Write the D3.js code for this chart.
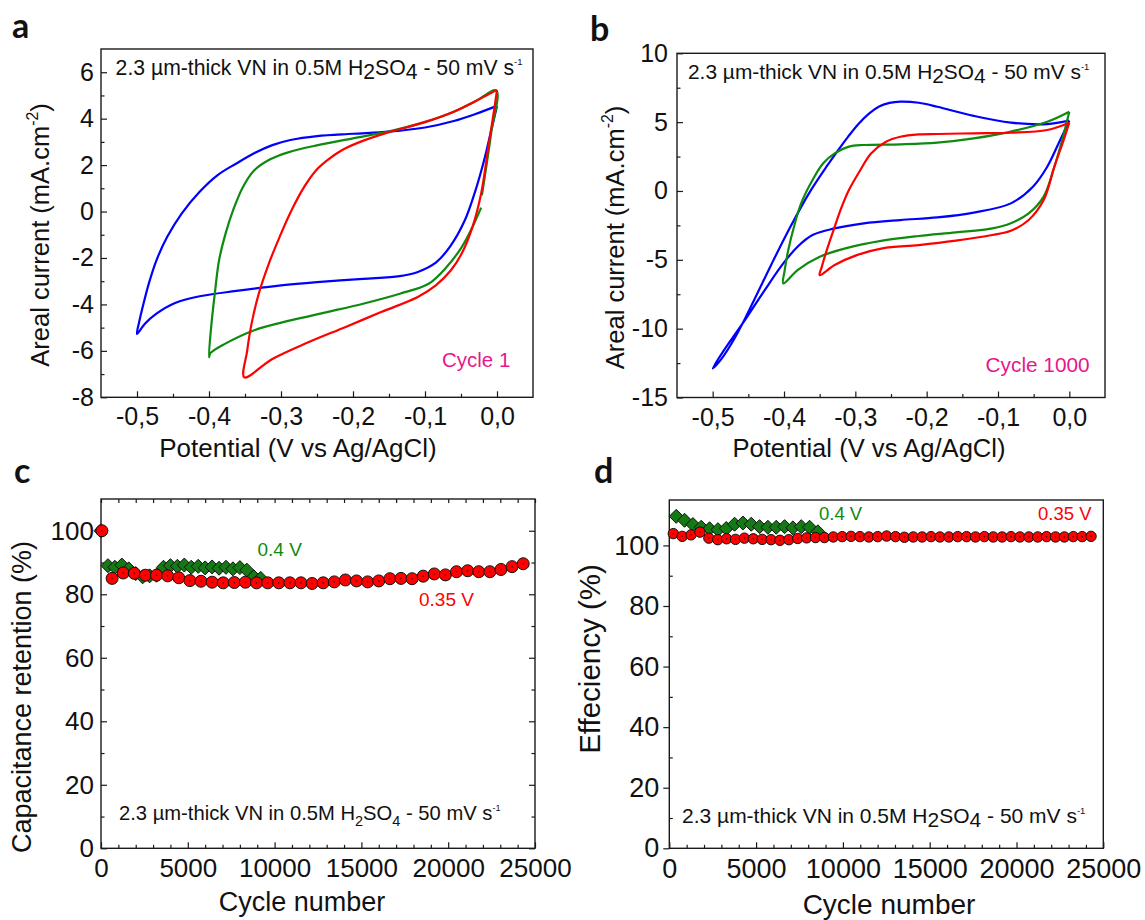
<!DOCTYPE html>
<html>
<head>
<meta charset="utf-8">
<script src="https://cdn.jsdelivr.net/npm/d3@7"></script>
<style>
  body { margin: 0; background: #fff; }
  text { font-family: "Liberation Sans", Arial, sans-serif; fill: #111; }
</style>
</head>
<body>
<svg id="fig" width="1145" height="920"></svg>
<script>
// ---- tick values ----
const potTicks = [-0.5, -0.4, -0.3, -0.2, -0.1, 0.0];
const potMinor = [-0.45, -0.35, -0.25, -0.15, -0.05];
const curTicksA = [-8, -6, -4, -2, 0, 2, 4, 6];
const curMinorA = [-7, -5, -3, -1, 1, 3, 5];
const curTicksB = [-15, -10, -5, 0, 5, 10];
const curMinorB = [-12.5, -7.5, -2.5, 2.5, 7.5];
const cycTicks = [0, 5000, 10000, 15000, 20000, 25000];
const cycMinor = [1000, 2000, 3000, 4000, 6000, 7000, 8000, 9000, 11000, 12000, 13000, 14000,
  16000, 17000, 18000, 19000, 21000, 22000, 23000, 24000];
const pctTicks = [0, 20, 40, 60, 80, 100];
const pctMinorC = [10, 30, 50, 70, 90];
const pctMinorD = [10, 30, 50, 70, 90, 110];

// ---- panel a : cycle 1, [potential V, current mA/cm2] ----
const cvA_blue = [[0, 4.55], [-0.03, 4.2], [-0.06, 3.9], [-0.1, 3.62], [-0.15, 3.44], [-0.2, 3.35],
  [-0.25, 3.25], [-0.287, 3.08], [-0.312, 2.86], [-0.338, 2.5], [-0.362, 2.07], [-0.388, 1.57],
  [-0.413, 0.85], [-0.438, -0.09], [-0.458, -1.09], [-0.473, -2.1], [-0.483, -3.04], [-0.491, -3.97],
  [-0.497, -4.76], [-0.5, -5.27],
  [-0.489, -4.83], [-0.473, -4.4], [-0.448, -3.95], [-0.413, -3.65], [-0.362, -3.42], [-0.3, -3.18],
  [-0.25, -3.04], [-0.186, -2.9], [-0.135, -2.78], [-0.11, -2.6], [-0.085, -2.2], [-0.065, -1.5],
  [-0.045, -0.4], [-0.03, 0.9], [-0.018, 2.2], [-0.008, 3.5], [0, 4.55]];
const cvA_green = [[-0.021, 0.7], [-0.016, 1.7], [-0.008, 3.4], [-0.001, 5.21], [-0.03, 4.75],
  [-0.06, 4.3], [-0.1, 3.86], [-0.15, 3.45], [-0.2, 3.15], [-0.25, 2.85], [-0.29, 2.55], [-0.315, 2.25],
  [-0.338, 1.75], [-0.353, 1.05], [-0.366, 0.1], [-0.377, -0.95], [-0.386, -2.1], [-0.392, -3.55],
  [-0.397, -4.98], [-0.4, -6.27],
  [-0.398, -6.1], [-0.378, -5.7], [-0.338, -5.12], [-0.287, -4.69], [-0.236, -4.33], [-0.186, -3.97],
  [-0.135, -3.54], [-0.095, -3.11], [-0.07, -2.39], [-0.049, -1.53], [-0.034, -0.66], [-0.022, 0.17]];
const cvA_red = [[0, 5.24], [-0.03, 4.75], [-0.06, 4.3], [-0.1, 3.85], [-0.15, 3.42], [-0.19, 3.0],
  [-0.215, 2.65], [-0.236, 2.2], [-0.252, 1.75], [-0.268, 1.05], [-0.287, -0.05], [-0.302, -1.1],
  [-0.317, -2.25], [-0.331, -3.55], [-0.341, -4.85], [-0.347, -6.0], [-0.351, -7.14],
  [-0.312, -6.35], [-0.262, -5.63], [-0.211, -4.98], [-0.161, -4.33], [-0.11, -3.68], [-0.085, -3.18],
  [-0.064, -2.53], [-0.049, -1.81], [-0.034, -0.66], [-0.022, 0.78], [-0.012, 2.79], [-0.004, 4.37], [0, 5.24]];

// ---- panel b : cycle 1000 ----
const cvB_blue = [[0, 5.11], [-0.031, 4.86], [-0.082, 4.96], [-0.134, 5.45], [-0.185, 6.12], [-0.211, 6.41],
  [-0.237, 6.49], [-0.252, 6.4], [-0.266, 6.15], [-0.28, 5.65], [-0.295, 4.9], [-0.31, 3.95], [-0.325, 2.9],
  [-0.34, 1.8], [-0.365, -0.17], [-0.391, -2.6], [-0.417, -5.26], [-0.442, -7.93], [-0.468, -10.59],
  [-0.489, -12.29], [-0.5, -12.89],
  [-0.484, -11.56], [-0.458, -9.62], [-0.427, -7.2], [-0.401, -5.26], [-0.381, -4.05], [-0.36, -3.2],
  [-0.329, -2.72], [-0.288, -2.35], [-0.237, -2.11], [-0.185, -1.92], [-0.134, -1.57], [-0.082, -0.9],
  [-0.051, 0.31], [-0.031, 1.76], [-0.015, 3.46], [-0.005, 4.55], [0, 5.11]];
const cvB_green = [[0, 5.76], [-0.031, 5.03], [-0.082, 4.31], [-0.134, 3.82], [-0.185, 3.51], [-0.237, 3.39],
  [-0.288, 3.34], [-0.309, 3.22], [-0.329, 2.73], [-0.345, 2.01], [-0.36, 0.8], [-0.376, -0.9],
  [-0.386, -2.6], [-0.394, -4.29], [-0.399, -5.75], [-0.401, -6.72],
  [-0.381, -5.75], [-0.35, -4.78], [-0.314, -4.17], [-0.262, -3.61], [-0.211, -3.27], [-0.159, -3.01],
  [-0.108, -2.72], [-0.082, -2.35], [-0.057, -1.63], [-0.036, -0.41], [-0.021, 1.76], [-0.01, 3.7],
  [-0.003, 5.15], [0, 5.76]];
const cvB_red = [[0, 4.96], [-0.031, 4.43], [-0.082, 4.23], [-0.134, 4.19], [-0.185, 4.14], [-0.211, 4.11],
  [-0.237, 3.94], [-0.257, 3.58], [-0.278, 2.73], [-0.293, 1.52], [-0.309, 0.07], [-0.319, -1.14],
  [-0.329, -2.6], [-0.34, -4.29], [-0.347, -5.5], [-0.35, -6.11],
  [-0.329, -5.38], [-0.298, -4.66], [-0.262, -4.17], [-0.211, -3.93], [-0.159, -3.61], [-0.108, -3.2],
  [-0.082, -2.89], [-0.057, -2.11], [-0.036, -0.66], [-0.021, 1.76], [-0.008, 3.7], [0, 4.96]];

// ---- panel c : capacitance retention (%) ----
const cycC_red = [50, 640, 1280, 1920, 2560, 3200, 3840, 4480, 5120, 5760, 6400, 7040, 7680, 8320,
  8960, 9600, 10240, 10880, 11520, 12160, 12800, 13440, 14080, 14720, 15360, 16000, 16640, 17280,
  17920, 18560, 19200, 19840, 20480, 21120, 21760, 22400, 23040, 23680, 24320];
const capC_red = [100, 85.0, 86.7, 86.6, 86.0, 86.0, 85.8, 85.2, 84.3, 84.1, 83.8, 83.6, 83.7, 83.8,
  83.6, 83.6, 83.6, 83.6, 83.6, 83.4, 83.6, 83.9, 84.5, 84.2, 83.9, 84.2, 84.9, 85.0,
  84.9, 85.7, 86.4, 86.1, 87.1, 87.4, 87.1, 87.1, 87.8, 88.7, 89.6];
const cycC_green = [0, 400, 800, 1200, 1600, 2000, 2400, 2800, 3200, 3600, 4000, 4400, 4800, 5200,
  5600, 6000, 6400, 6800, 7200, 7600, 8000, 8400, 8800, 9200];
const capC_green = [100, 89.0, 88.5, 89.2, 88.0, 86.5, 85.5, 85.8, 86.0, 88.5, 89.0, 88.8, 89.2, 88.5,
  88.8, 88.3, 88.6, 88.2, 88.5, 88.0, 88.4, 87.6, 85.5, 85.0];

// ---- panel d : efficiency (%) ----
const cycD_red = [230, 742, 1254, 1766, 2278, 2790, 3302, 3814, 4326, 4838, 5350, 5862, 6374, 6886,
  7398, 7910, 8422, 8934, 9446, 9958, 10470, 10982, 11494, 12006, 12518, 13030, 13542, 14054, 14566,
  15078, 15590, 16102, 16614, 17126, 17638, 18150, 18662, 19174, 19686, 20198, 20710, 21222, 21734,
  22246, 22758, 23270, 23782, 24294];
const effD_red = [103.9, 103.0, 103.5, 104.4, 102.4, 101.9, 102.2, 102.0, 102.4, 102.2,
  102.0, 101.9, 101.7, 101.9, 102.3, 102.5, 102.6, 102.6, 102.8, 102.9,
  103.0, 102.9, 102.8, 102.9, 103.1, 102.9, 102.7, 102.8, 102.8, 102.9,
  102.8, 102.8, 102.9, 102.9, 102.8, 102.9, 102.8, 102.8, 102.9, 102.8,
  102.8, 102.8, 102.9, 102.8, 102.8, 102.9, 102.9, 103.0];
const cycD_green = [400, 880, 1360, 1840, 2320, 2800, 3280, 3760, 4240, 4720, 5200, 5680, 6160, 6640,
  7120, 7600, 8080, 8560];
const effD_green = [109.6, 108.3, 106.9, 106.0, 105.5, 105.2, 105.6, 107.0, 107.4, 107.0, 106.2, 106.0,
  106.0, 106.2, 105.8, 106.2, 106.0, 104.5];

const BLUE = "#0000ff", GREEN = "#0e8a0e", RED = "#ff0000", PINK = "#e8168c", INK = "#1a1a1a";
const DIAMOND = "#157a15";

const svg = d3.select("#fig");

function makePanel(box, xDomain, yDomain) {
  const w = box.right - box.left, h = box.bottom - box.top;
  const g = svg.append("g").attr("transform", `translate(${box.left},${box.top})`);
  const x = d3.scaleLinear().domain(xDomain).range([0, w]);
  const y = d3.scaleLinear().domain(yDomain).range([h, 0]);
  return { g, x, y, w, h };
}

function styleAxis(sel, size) {
  sel.attr("font-family", null).attr("font-size", size);
  sel.select(".domain").remove();
  sel.selectAll("line").attr("stroke", INK).attr("stroke-width", 1.2);
  sel.selectAll("text").attr("fill", "#111");
}

const blank = () => "";

function drawAxes(p, o) {
  const bx = p.g.append("g").attr("transform", `translate(0,${p.h})`)
    .call(d3.axisBottom(p.x).tickValues(o.xTicks).tickFormat(o.xFmt)
      .tickSizeInner(-6).tickSizeOuter(0).tickPadding(o.xPad));
  styleAxis(bx, o.size);
  const bxm = p.g.append("g").attr("transform", `translate(0,${p.h})`)
    .call(d3.axisBottom(p.x).tickValues(o.xMinor).tickFormat(blank).tickSizeInner(-3.5).tickSizeOuter(0));
  styleAxis(bxm, o.size);

  const ly = p.g.append("g")
    .call(d3.axisLeft(p.y).tickValues(o.yTicks).tickFormat(o.yFmt)
      .tickSizeInner(o.yOut ? 6 : -6).tickSizeOuter(0).tickPadding(o.yPad));
  styleAxis(ly, o.size);
  const lym = p.g.append("g")
    .call(d3.axisLeft(p.y).tickValues(o.yMinor).tickFormat(blank).tickSizeInner(-3.5).tickSizeOuter(0));
  styleAxis(lym, o.size);

  if (o.mirror) {
    const tx = p.g.append("g")
      .call(d3.axisTop(p.x).tickValues(o.xTicks.concat(o.xMinor)).tickFormat(blank).tickSizeInner(-4).tickSizeOuter(0));
    styleAxis(tx, o.size);
    const ry = p.g.append("g").attr("transform", `translate(${p.w},0)`)
      .call(d3.axisRight(p.y).tickValues(o.yTicks).tickFormat(blank).tickSizeInner(-6).tickSizeOuter(0));
    styleAxis(ry, o.size);
    const rym = p.g.append("g").attr("transform", `translate(${p.w},0)`)
      .call(d3.axisRight(p.y).tickValues(o.yMinor).tickFormat(blank).tickSizeInner(-3.5).tickSizeOuter(0));
    styleAxis(rym, o.size);
  }

  p.g.append("rect").attr("width", p.w).attr("height", p.h)
    .attr("fill", "none").attr("stroke", INK).attr("stroke-width", 1.4);
}

function label(x, y, str, size, opts = {}) {
  const t = svg.append("text").attr("x", x).attr("y", y).attr("font-size", size)
    .attr("text-anchor", opts.anchor || "start").text(str);
  if (opts.color) t.style("fill", opts.color);
  if (opts.rotate) t.attr("transform", `rotate(-90,${x},${y})`);
  if (opts.bold) t.style("font-family", "Lato, 'Open Sans', sans-serif").attr("font-weight", 700);
  return t;
}

function conditions(x, y, size, subScale) {
  const t = svg.append("text").attr("x", x).attr("y", y).attr("font-size", size);
  const drop = subScale < 1 ? size * 0.3 : size * 0.2;
  t.append("tspan").text("2.3 µm-thick VN in 0.5M H");
  t.append("tspan").attr("dy", drop).attr("font-size", size * subScale).text("2");
  t.append("tspan").attr("dy", -drop).text("SO");
  t.append("tspan").attr("dy", drop).attr("font-size", size * subScale).text("4");
  t.append("tspan").attr("dy", -drop).text(" - 50 mV s");
  t.append("tspan").attr("dy", -size * 0.45).attr("font-size", size * 0.45).text("-1");
}

function yTitleCurrent(x, y, size) {
  const t = svg.append("text").attr("x", x).attr("y", y).attr("font-size", size)
    .attr("text-anchor", "middle").attr("transform", `rotate(-90,${x},${y})`);
  t.append("tspan").text("Areal current (mA.cm");
  t.append("tspan").attr("dy", -size * 0.42).attr("font-size", size * 0.62).text("-2");
  t.append("tspan").attr("dy", size * 0.42).text(")");
}

const potFmt = d => d.toFixed(1).replace(".", ",");
const intFmt = d => String(d);

function cvPanel(p, curves) {
  const line = d3.line().x(d => p.x(d[0])).y(d => p.y(d[1])).curve(d3.curveCatmullRom.alpha(0.5));
  curves.forEach(c => {
    p.g.append("path").datum(c.data).attr("d", line)
      .attr("fill", "none").attr("stroke", c.color).attr("stroke-width", 2.2)
      .attr("stroke-linejoin", "round");
  });
}

const diamond = r => `M0,${-r}L${r},0L0,${r}L${-r},0Z`;

function scatter(p, xs, ys, kind, size) {
  const pts = xs.map((c, i) => [c, ys[i]]);
  if (kind === "diamond") {
    p.g.append("g").selectAll("path").data(pts).join("path")
      .attr("transform", d => `translate(${p.x(d[0])},${p.y(d[1])})`)
      .attr("d", diamond(size)).attr("fill", DIAMOND).attr("stroke", "#111").attr("stroke-width", 1);
  } else {
    const g = p.g.append("g");
    g.selectAll("circle.mk").data(pts).join("circle").attr("class", "mk")
      .attr("cx", d => p.x(d[0])).attr("cy", d => p.y(d[1])).attr("r", size)
      .attr("fill", RED).attr("stroke", "#111").attr("stroke-width", 1);
    g.selectAll("circle.dot").data(pts).join("circle").attr("class", "dot")
      .attr("cx", d => p.x(d[0])).attr("cy", d => p.y(d[1])).attr("r", 0.8).attr("fill", "#5a0000");
  }
}

// ---------- panel a ----------
const pa = makePanel({ left: 101, right: 533, top: 49, bottom: 397.3 }, [-0.55, 0.05], [-8, 7]);
drawAxes(pa, { xTicks: potTicks, xMinor: potMinor, xFmt: potFmt, xPad: 10,
  yTicks: curTicksA, yMinor: curMinorA, yFmt: intFmt, yPad: 7, size: 25 });
cvPanel(pa, [{ data: cvA_blue, color: BLUE }, { data: cvA_green, color: GREEN }, { data: cvA_red, color: RED }]);
conditions(115.6, 75, 21.2, 1);
label(442, 367, "Cycle 1", 20.5, { color: PINK });
label(298, 457, "Potential (V vs Ag/AgCl)", 26, { anchor: "middle" });
yTitleCurrent(49, 235, 25.5);
label(12, 38, "a", 34, { bold: true });

// ---------- panel b ----------
const pb = makePanel({ left: 677, right: 1105, top: 53.3, bottom: 397.5 }, [-0.55, 0.05], [-15, 10]);
drawAxes(pb, { xTicks: potTicks, xMinor: potMinor, xFmt: potFmt, xPad: 10.5,
  yTicks: curTicksB, yMinor: curMinorB, yFmt: intFmt, yPad: 9, size: 25 });
cvPanel(pb, [{ data: cvB_blue, color: BLUE }, { data: cvB_green, color: GREEN }, { data: cvB_red, color: RED }]);
conditions(688, 79, 20.9, 1);
label(985.6, 372, "Cycle 1000", 20.8, { color: PINK });
label(869, 457, "Potential (V vs Ag/AgCl)", 25.6, { anchor: "middle" });
yTitleCurrent(624, 237.5, 25.5);
label(590, 41, "b", 34, { bold: true });

// ---------- panel c ----------
const pc = makePanel({ left: 101, right: 535, top: 499, bottom: 848.3 }, [0, 25000], [0, 110]);
drawAxes(pc, { xTicks: cycTicks, xMinor: cycMinor, xFmt: intFmt, xPad: 10,
  yTicks: pctTicks, yMinor: pctMinorC, yFmt: intFmt, yPad: 7, size: 26, mirror: true });
scatter(pc, cycC_green, capC_green, "diamond", 7);
scatter(pc, cycC_red, capC_red, "circle", 6);
label(257.5, 556, "0.4 V", 19, { color: GREEN });
label(419, 605.7, "0.35 V", 19, { color: RED });
conditions(119, 820, 20.2, 0.72);
label(302, 911, "Cycle number", 27, { anchor: "middle" });
label(31, 697, "Capacitance retention (%)", 27, { anchor: "middle", rotate: true });
label(14, 483, "c", 34, { bold: true });

// ---------- panel d ----------
const pd = makePanel({ left: 669.3, right: 1103.3, top: 500, bottom: 848.3 }, [0, 25000], [0, 115]);
drawAxes(pd, { xTicks: cycTicks, xMinor: cycMinor, xFmt: intFmt, xPad: 11,
  yTicks: pctTicks, yMinor: pctMinorD, yFmt: intFmt, yPad: 4, yOut: true, size: 27 });
scatter(pd, cycD_green, effD_green, "diamond", 7);
scatter(pd, cycD_red, effD_red, "circle", 5.2);
label(819, 520, "0.4 V", 18.5, { color: GREEN });
label(1038, 520, "0.35 V", 18.5, { color: RED });
conditions(682, 823, 21, 1);
label(889, 914, "Cycle number", 28, { anchor: "middle" });
label(600, 659, "Effeciency (%)", 29.5, { anchor: "middle", rotate: true });
label(594, 483, "d", 34, { bold: true });
</script>
</body>
</html>
